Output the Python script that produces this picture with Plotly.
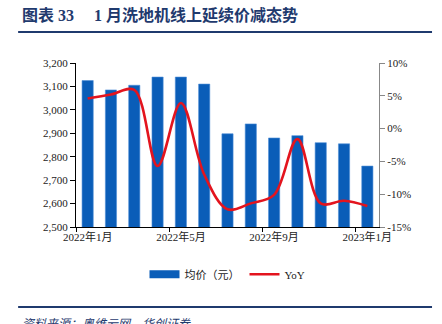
import plotly.graph_objects as go

months = ["2022年1月", "2022年2月", "2022年3月", "2022年4月", "2022年5月", "2022年6月",
          "2022年7月", "2022年8月", "2022年9月", "2022年10月", "2022年11月", "2022年12月", "2023年1月"]
avg_price = [3125, 3085, 3105, 3140, 3140, 3110, 2898, 2940, 2880, 2890, 2860, 2855, 2760]
yoy = [4.6, 5.2, 5.9, -5.7, 3.9, -7.0, -12.3, -11.4, -10.1, -1.6, -11.4, -11.0, -11.8]
xtick_labels = ["2022年1月", "2022年5月", "2022年9月", "2023年1月"]
left_ticks = [2500, 2600, 2700, 2800, 2900, 3000, 3100, 3200]
right_ticks = [-15, -10, -5, 0, 5, 10]

idx = list(range(len(months)))
navy = "#1F3A6E"
bar_color = "#0A5DB8"
serif = "Liberation Serif"
cjk = "Noto Sans CJK SC"

fig = go.Figure()
fig.add_trace(go.Bar(x=idx, y=avg_price, name="均价（元）", marker_color=bar_color,
                     marker_line=dict(color="#4F8FD6", width=0.6), yaxis="y",
                     showlegend=False))
# legend-only proxy for wide bar swatch
fig.add_trace(go.Scatter(x=[None], y=[None], name="均价（元）", mode="lines",
                         line=dict(color=bar_color, width=8), yaxis="y"))
fig.add_trace(go.Scatter(x=idx, y=yoy, name="YoY", mode="lines",
                         line=dict(color="#E3141E", width=2.6, shape="spline", smoothing=1.0),
                         yaxis="y2"))
fig.add_trace(go.Scatter(x=[-0.5, 12.5], y=[None, None], xaxis="x2", showlegend=False,
                         hoverinfo="skip"))

tick_positions = [idx[months.index(m)] for m in xtick_labels]
boundaries = [-0.5, 3.5, 7.5, 11.5]

fig.update_layout(
    width=442, height=324,
    margin=dict(l=76, r=63, t=63, b=97),
    paper_bgcolor="white", plot_bgcolor="white",
    bargap=0.52,
    showlegend=True,
    legend=dict(orientation="h", x=0.5, xanchor="center", y=-0.2, yanchor="top",
                font=dict(family=serif + ", " + cjk, size=11, color="#222"),
                traceorder="normal"),
    xaxis=dict(range=[-0.5, 12.5], tickmode="array", tickvals=tick_positions,
               ticktext=xtick_labels, ticks="", showline=True, linecolor="black",
               linewidth=1.2, showgrid=False, zeroline=False,
               tickfont=dict(family=serif + ", " + cjk, size=11, color="#222")),
    xaxis2=dict(range=[-0.5, 12.5], overlaying="x", anchor="y", tickmode="array",
                tickvals=boundaries, ticks="outside", ticklen=4, tickcolor="black",
                showticklabels=False, showgrid=False, zeroline=False, showline=False),
    yaxis=dict(range=[2500, 3200], tickmode="array", tickvals=left_ticks,
               ticktext=[f"{v:,}" for v in left_ticks],
               ticks="outside", ticklen=5, tickcolor="black",
               showline=True, linecolor="black", linewidth=1.2, showgrid=False,
               zeroline=False, tickfont=dict(family=serif, size=11, color="#222")),
    yaxis2=dict(range=[-15, 10], overlaying="y", side="right", tickmode="array",
                tickvals=right_ticks, ticktext=[f"{v}%" for v in right_ticks],
                ticks="outside", ticklen=5,
                tickcolor="#888", showline=True, linecolor="#888", linewidth=1.2,
                showgrid=False, zeroline=False,
                tickfont=dict(family=serif, size=11, color="#222")),
    shapes=[
        dict(type="line", xref="paper", yref="paper", x0=-0.191, x1=1.175,
             y0=1.189, y1=1.189, line=dict(color=navy, width=2)),
        dict(type="line", xref="paper", yref="paper", x0=-0.191, x1=1.175,
             y0=-0.488, y1=-0.488, line=dict(color=navy, width=2)),
    ],
    annotations=[
        dict(text="<b>图表 33　 1 月洗地机线上延续价减态势</b>", xref="paper", yref="paper",
             x=-0.185, y=1.29, xanchor="left", yanchor="middle", showarrow=False,
             font=dict(family=serif + ", " + cjk, size=16, color=navy)),
        dict(text="<i>资料来源：奥维云网，华创证券</i>", xref="paper", yref="paper",
             x=-0.185, y=-0.52, xanchor="left", yanchor="top", showarrow=False,
             font=dict(family=cjk, size=12, color=navy)),
    ],
)

fig.write_html("out.html")
